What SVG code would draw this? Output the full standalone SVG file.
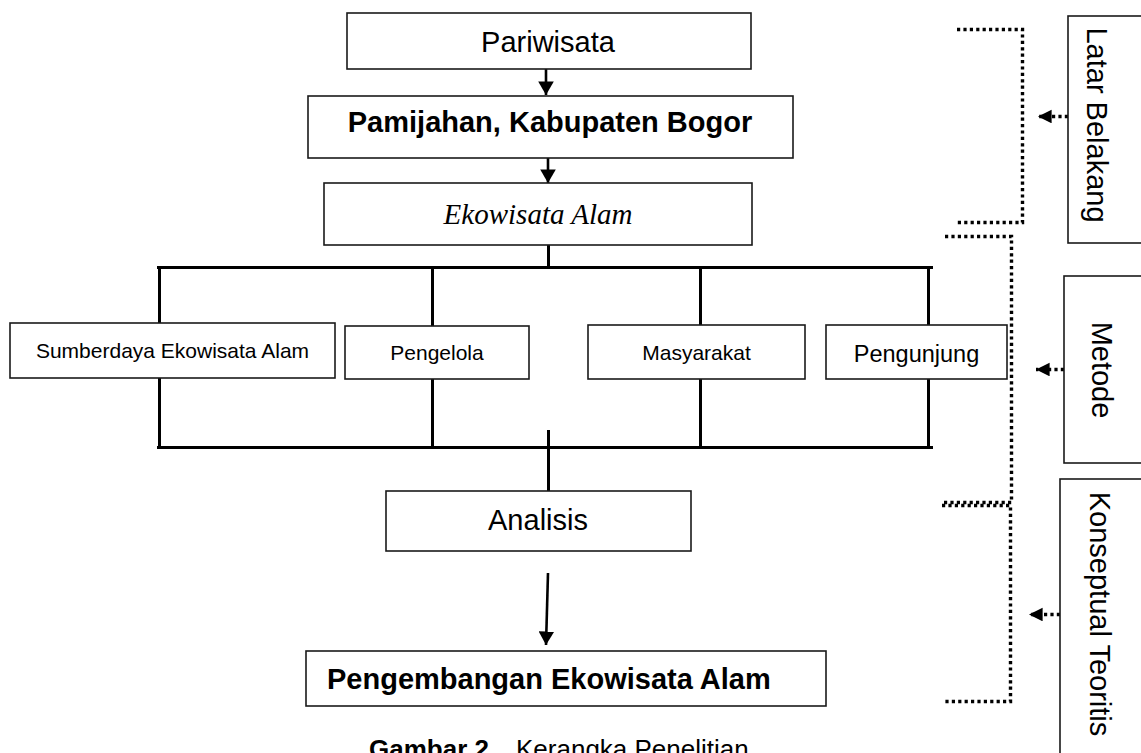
<svg xmlns="http://www.w3.org/2000/svg" width="1141" height="753" viewBox="0 0 1141 753">
<style>
.box{fill:#fff;stroke:#1a1a1a;stroke-width:1.6}
.t{font-family:"Liberation Sans",Arial,sans-serif;fill:#000}
.m{text-anchor:middle}
.tree{stroke:#000;stroke-width:3;fill:none}
.arr{stroke:#000;stroke-width:2.6;fill:none}
.dot{stroke:#000;stroke-width:3.4;fill:none;stroke-dasharray:3.2 3.2}
</style>
<defs>
<marker id="ah" markerWidth="6" markerHeight="6" refX="5.2" refY="3" orient="auto" markerUnits="strokeWidth">
<path d="M0,0 L5.2,3 L0,6 Z" fill="#000"/>
</marker>
<marker id="dh" markerWidth="4.5" markerHeight="4.5" refX="4" refY="2" orient="auto" markerUnits="strokeWidth">
<path d="M0,0 L4,2 L0,4 Z" fill="#000"/>
</marker>
</defs>
<g id="connectors">
<line class="arr" x1="546" y1="69" x2="546" y2="95" marker-end="url(#ah)"/>
<line class="arr" x1="548" y1="158" x2="548" y2="183" marker-end="url(#ah)"/>
<path class="tree" d="M548.5,245 V267 M157,267.5 H933 M159.5,267 V447 M432.5,267 V447 M700.5,267 V447 M928.5,267 V447 M157,447.5 H933 M548.5,430 V491"/>
<line class="arr" x1="548" y1="573" x2="546" y2="645" marker-end="url(#ah)"/>
<path class="dot" d="M957,29.5 H1022.5 V222.5 H957"/>
<path class="dot" d="M945,236.5 H1011.5 V502.5 H942"/>
<path class="dot" d="M942,505.5 H1010.5 V701.5 H943"/>
<line class="dot" x1="1068" y1="116.5" x2="1038" y2="116.5" marker-end="url(#dh)"/>
<line class="dot" x1="1064" y1="369.5" x2="1036" y2="369.5" marker-end="url(#dh)"/>
<line class="dot" x1="1060" y1="614.5" x2="1029" y2="614.5" marker-end="url(#dh)"/>
</g>
<g id="pariwisata"><rect class="box" x="347" y="13" width="404" height="56"/><text class="t m" x="548" y="52" font-size="29">Pariwisata</text></g>
<g id="pamijahan"><rect class="box" x="308" y="96" width="485" height="62"/><text class="t m" x="550" y="132" font-size="29" font-weight="bold">Pamijahan, Kabupaten Bogor</text></g>
<g id="ekowisata"><rect class="box" x="324" y="183" width="428" height="62"/><text class="m" x="538" y="224" font-size="29" font-style="italic" font-family="'Liberation Serif','Times New Roman',serif">Ekowisata Alam</text></g>
<g id="sumberdaya"><rect class="box" x="10" y="323" width="325" height="55"/><text class="t m" x="172.5" y="358" font-size="21">Sumberdaya Ekowisata Alam</text></g>
<g id="pengelola"><rect class="box" x="345" y="326" width="184" height="53"/><text class="t m" x="437" y="360" font-size="21">Pengelola</text></g>
<g id="masyarakat"><rect class="box" x="588" y="325" width="217" height="54"/><text class="t m" x="696.5" y="360" font-size="21">Masyarakat</text></g>
<g id="pengunjung"><rect class="box" x="826" y="325" width="181" height="54"/><text class="t m" x="916.5" y="362" font-size="23.5">Pengunjung</text></g>
<g id="analisis"><rect class="box" x="386" y="491" width="305" height="60"/><text class="t m" x="538" y="530" font-size="29">Analisis</text></g>
<g id="pengembangan"><rect class="box" x="306" y="651" width="520" height="55"/><text class="t" x="327" y="689" font-size="29" font-weight="bold">Pengembangan Ekowisata Alam</text></g>
<g id="latar"><rect class="box" x="1068" y="16" width="80" height="227"/><text class="t m" font-size="29" transform="translate(1087,125) rotate(90)">Latar Belakang</text></g>
<g id="metode"><rect class="box" x="1064" y="276" width="84" height="187"/><text class="t m" font-size="29" transform="translate(1092,370) rotate(90)">Metode</text></g>
<g id="konseptual"><rect class="box" x="1060" y="479" width="88" height="290"/><text class="t m" font-size="29" transform="translate(1090,614) rotate(90)">Konseptual Teoritis</text></g>
<g id="caption"><text class="t" y="758" font-size="26"><tspan x="369" font-weight="bold">Gambar 2.</tspan><tspan x="516">Kerangka Penelitian</tspan></text></g>
</svg>
